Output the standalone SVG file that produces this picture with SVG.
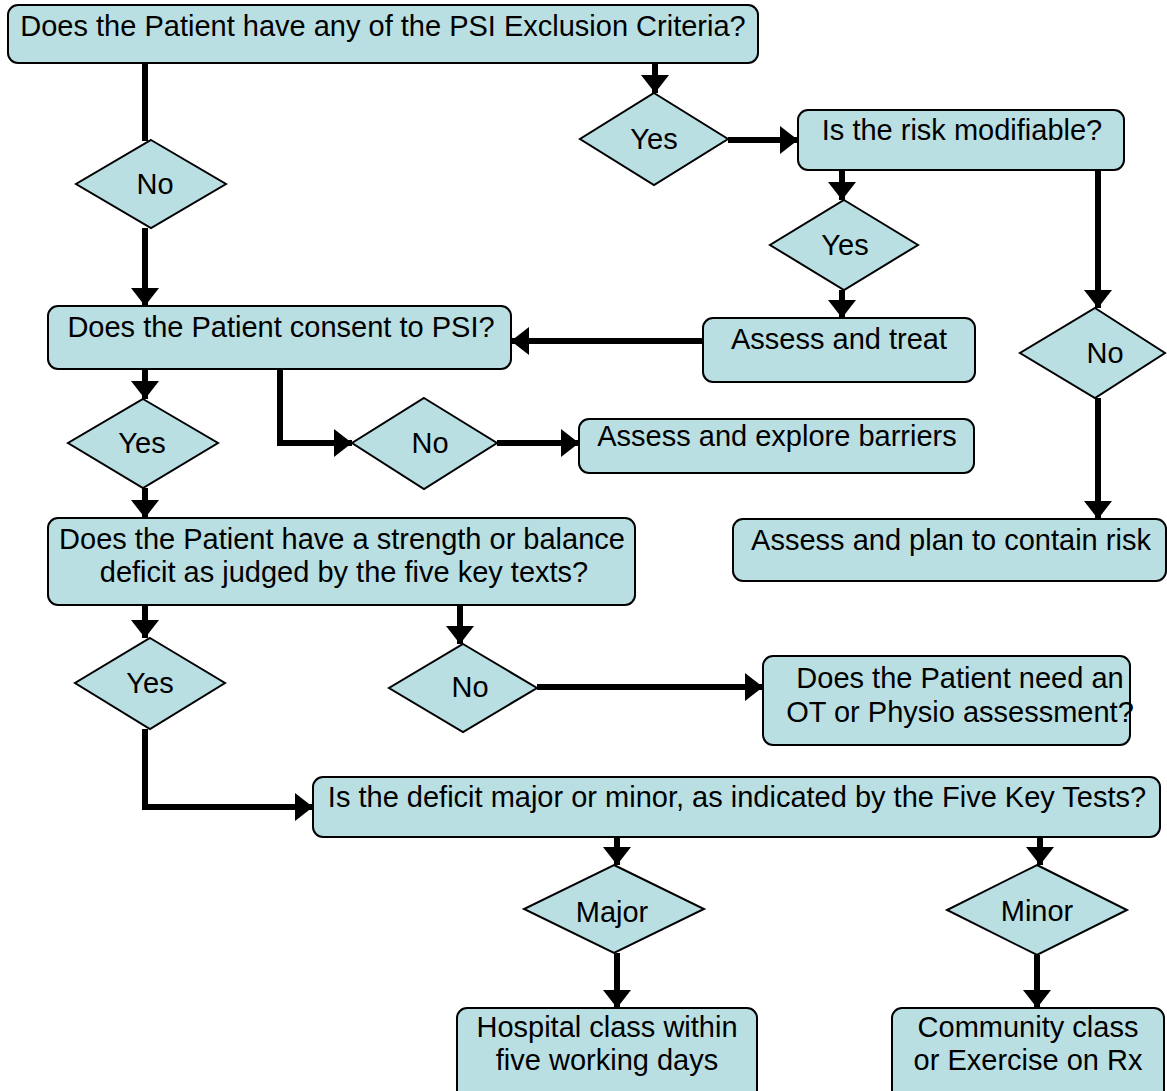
<svg xmlns="http://www.w3.org/2000/svg" width="1167" height="1091" viewBox="0 0 1167 1091">
<style>
.box{fill:#b9dfe3;stroke:#000;stroke-width:2}
.dia{fill:#b9dfe3;stroke:#000;stroke-width:2}
.t{font-family:"Liberation Sans",Arial,sans-serif;font-size:29px;fill:#000;text-anchor:middle}
.c{fill:none;stroke:#000;stroke-width:6}
</style>
<defs>
<marker id="ah" markerUnits="userSpaceOnUse" viewBox="0 0 18 28" markerWidth="18" markerHeight="28" refX="18" refY="14" orient="auto">
<path d="M0,0 L18,14 L0,28 Z" fill="#000"/>
</marker>
</defs>
<rect width="1167" height="1091" fill="#fff"/>
<g id="connectors">
<path class="c" d="M145,63 V141"/>
<path class="c" d="M145,228 V306" marker-end="url(#ah)"/>
<path class="c" d="M655,63 V93" marker-end="url(#ah)"/>
<path class="c" d="M728,140 H798" marker-end="url(#ah)"/>
<path class="c" d="M842,170 V200" marker-end="url(#ah)"/>
<path class="c" d="M842,290 V318" marker-end="url(#ah)"/>
<path class="c" d="M703,341 H511" marker-end="url(#ah)"/>
<path class="c" d="M1098,170 V308" marker-end="url(#ah)"/>
<path class="c" d="M1098,398 V519" marker-end="url(#ah)"/>
<path class="c" d="M145,369 V399" marker-end="url(#ah)"/>
<path class="c" d="M280,369 V443 H352" marker-end="url(#ah)"/>
<path class="c" d="M497,443 H579" marker-end="url(#ah)"/>
<path class="c" d="M145,488 V518" marker-end="url(#ah)"/>
<path class="c" d="M145,605 V638" marker-end="url(#ah)"/>
<path class="c" d="M460,605 V644" marker-end="url(#ah)"/>
<path class="c" d="M537,687 H763" marker-end="url(#ah)"/>
<path class="c" d="M145,729 V807 H313" marker-end="url(#ah)"/>
<path class="c" d="M617,837 V865" marker-end="url(#ah)"/>
<path class="c" d="M1040,837 V865" marker-end="url(#ah)"/>
<path class="c" d="M617,953 V1008" marker-end="url(#ah)"/>
<path class="c" d="M1037,955 V1008" marker-end="url(#ah)"/>
</g>
<g id="n1"><rect class="box" x="8" y="5" width="750" height="58" rx="10"/><text class="t" x="383" y="36">Does the Patient have any of the PSI Exclusion Criteria?</text></g>
<g id="d_no1"><polygon class="dia" points="151,140 226,184 151,228 76,184"/><text class="t" x="155" y="194">No</text></g>
<g id="d_yes1"><polygon class="dia" points="654,93 728,139 654,185 580,139"/><text class="t" x="654" y="149">Yes</text></g>
<g id="n_risk"><rect class="box" x="798" y="110" width="326" height="60" rx="10"/><text class="t" x="962" y="140">Is the risk modifiable?</text></g>
<g id="d_yes2"><polygon class="dia" points="844,200 918,245 844,290 770,245"/><text class="t" x="845" y="255">Yes</text></g>
<g id="n_treat"><rect class="box" x="703" y="318" width="272" height="64" rx="10"/><text class="t" x="839" y="349">Assess and treat</text></g>
<g id="d_no2"><polygon class="dia" points="1095,308 1165,353 1095,398 1020,353"/><text class="t" x="1105" y="363">No</text></g>
<g id="n_contain"><rect class="box" x="733" y="519" width="433" height="62" rx="10"/><text class="t" x="951" y="550">Assess and plan to contain risk</text></g>
<g id="n2"><rect class="box" x="48" y="306" width="463" height="63" rx="10"/><text class="t" x="281" y="337">Does the Patient consent to PSI?</text></g>
<g id="d_yes3"><polygon class="dia" points="143,399 218,443 143,488 68,443"/><text class="t" x="142" y="453">Yes</text></g>
<g id="d_no3"><polygon class="dia" points="424,398 497,443 424,489 352,443"/><text class="t" x="430" y="453">No</text></g>
<g id="n_barriers"><rect class="box" x="579" y="419" width="395" height="54" rx="10"/><text class="t" x="777" y="446">Assess and explore barriers</text></g>
<g id="n3"><rect class="box" x="48" y="518" width="587" height="87" rx="10"/><text class="t" x="342" y="549">Does the Patient have a strength or balance</text><text class="t" x="344" y="582">deficit as judged by the five key texts?</text></g>
<g id="d_yes4"><polygon class="dia" points="150,638 225,683 150,729 75,683"/><text class="t" x="150" y="693">Yes</text></g>
<g id="d_no4"><polygon class="dia" points="463,644 537,688 463,732 389,688"/><text class="t" x="470" y="697">No</text></g>
<g id="n_ot"><rect class="box" x="763" y="656" width="367" height="89" rx="10"/><text class="t" x="960" y="688">Does the Patient need an</text><text class="t" x="960" y="722">OT or Physio assessment?</text></g>
<g id="n4"><rect class="box" x="313" y="777" width="847" height="60" rx="10"/><text class="t" x="737" y="807">Is the deficit major or minor, as indicated by the Five Key Tests?</text></g>
<g id="d_major"><polygon class="dia" points="614,865 704,909 614,953 524,909"/><text class="t" x="612" y="922">Major</text></g>
<g id="d_minor"><polygon class="dia" points="1037,865 1127,910 1037,955 947,910"/><text class="t" x="1037" y="921">Minor</text></g>
<g id="n_hosp"><rect class="box" x="457" y="1008" width="300" height="95" rx="10"/><text class="t" x="607" y="1037">Hospital class within</text><text class="t" x="607" y="1070">five working days</text></g>
<g id="n_comm"><rect class="box" x="892" y="1008" width="272" height="95" rx="10"/><text class="t" x="1028" y="1037">Community class</text><text class="t" x="1028" y="1070">or Exercise on Rx</text></g>
</svg>
